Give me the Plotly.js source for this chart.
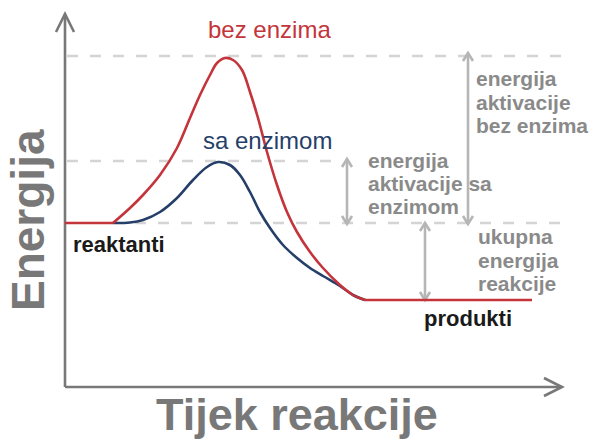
<!DOCTYPE html>
<html>
<head>
<meta charset="utf-8">
<script src="https://cdn.plot.ly/plotly-3.0.1.min.js"></script>
<style>html,body{margin:0;padding:0;background:#fff;}#chart{width:593px;height:441px;}</style>
</head>
<body>
<div id="chart"></div>
<script>
// Reaction progress (x) and energy (y) of the two pathways
const redX  = [0, 48, 65, 78, 95, 112, 125, 135, 145, 152, 160, 168, 177, 185, 193, 202, 212, 222, 232, 245, 258, 275, 288, 300, 467];
const redY  = [164, 164, 179, 192, 212, 239, 269, 292, 312, 324, 329, 327, 317, 295, 269, 235, 202, 175, 155, 135, 119, 102, 92, 87, 87];
const blueX = [48, 65, 78, 95, 112, 128, 142, 153, 165, 175, 185, 195, 205, 218, 232, 245, 258, 275, 288, 300];
const blueY = [164, 164.5, 167, 175, 189, 207, 220, 225, 222, 212, 195, 175, 159, 142, 129, 119, 111, 101, 92, 87];

// Energy levels
const levelReactants = 164;
const levelProducts = 87;
const levelPeakEnzyme = 226;
const levelPeakNoEnzyme = 331;

// Texts
const axisTitleY = 'Energija';
const axisTitleX = 'Tijek reakcije';
const curveLabels = ['bez enzima', 'sa enzimom'];
const stateLabels = ['reaktanti', 'produkti'];
const noteNoEnzyme = ['energija', 'aktivacije', 'bez enzima'];
const noteEnzyme = ['energija', 'aktivacije sa', 'enzimom'];
const noteTotal = ['ukupna', 'energija', 'reakcije'];

const RED = '#c4343b', BLUE = '#263f69', AXIS = '#787878', NOTE = '#8a8a8a', ARROW = '#b6b6b6', DASH = '#d4d4d4';
const FONT = 'Liberation Sans, Arial, sans-serif';

const n = redX.length;
const traces = [
  {x: blueX, y: blueY, mode: 'lines', line: {color: BLUE, width: 2.6, shape: 'spline', smoothing: 1}, hoverinfo: 'skip'},
  {x: redX.slice(0, 2), y: redY.slice(0, 2), mode: 'lines', line: {color: RED, width: 2.6}, hoverinfo: 'skip'},
  {x: redX.slice(1, n - 1), y: redY.slice(1, n - 1), mode: 'lines', line: {color: RED, width: 2.6, shape: 'spline', smoothing: 1}, hoverinfo: 'skip'},
  {x: redX.slice(n - 2), y: redY.slice(n - 2), mode: 'lines', line: {color: RED, width: 2.6}, hoverinfo: 'skip'}
];

const shapes = [];
function seg(x0, y0, x1, y1, color, width, dash) {
  shapes.push({type: 'line', xref: 'x', yref: 'y', x0, y0, x1, y1, line: {color, width, dash: dash || 'solid'}, layer: 'below'});
}
function pathShape(d, color, width) {
  shapes.push({type: 'path', xref: 'x', yref: 'y', path: d, line: {color, width}, fillcolor: 'rgba(0,0,0,0)', layer: 'below'});
}
// dashed guide lines
seg(2, levelPeakNoEnzyme, 498, levelPeakNoEnzyme, DASH, 2.5, '11px,12px');
seg(2, levelPeakEnzyme, 270, levelPeakEnzyme, DASH, 2.5, '11px,12px');
seg(70, levelReactants, 498, levelReactants, DASH, 2.5, '11px,12px');

// axes with arrowheads
const yTop = 373, xEnd = 497;
seg(0, 0, 0, yTop, AXIS, 2.6);
seg(0, 0, xEnd, 0, AXIS, 2.6);
pathShape(`M -9 ${yTop - 18} L 0 ${yTop} L 9 ${yTop - 18}`, AXIS, 2.6);
pathShape(`M ${xEnd - 18} 9 L ${xEnd} 0 L ${xEnd - 18} -9`, AXIS, 2.6);

// double arrows
function dbl(x, yLow, yHigh) {
  seg(x, yLow, x, yHigh, ARROW, 2.6);
  pathShape(`M ${x - 5} ${yHigh - 8} L ${x} ${yHigh} L ${x + 5} ${yHigh - 8}`, ARROW, 2.6);
  pathShape(`M ${x - 5} ${yLow + 8} L ${x} ${yLow} L ${x + 5} ${yLow + 8}`, ARROW, 2.6);
}
dbl(282, levelReactants - 1, levelPeakEnzyme + 2);
dbl(403, levelReactants - 1, levelPeakNoEnzyme + 3);
dbl(360, levelProducts, levelReactants);

const ann = [];
function txt(text, x, y, size, color, bold, anchor, angle) {
  ann.push({text: bold ? '<b>' + text + '</b>' : text, x, y, xref: 'x', yref: 'y', showarrow: false,
    xanchor: anchor || 'left', yanchor: 'middle', textangle: angle || 0,
    font: {family: FONT, size, color}});
}
txt(axisTitleY, -37, 167, 46, AXIS, true, 'center', -90);
txt(axisTitleX, 232, -27, 45, AXIS, true, 'center');
txt(curveLabels[0], 141, 358, 24, RED, false);
txt(curveLabels[1], 136, 247, 24, BLUE, false);
txt(stateLabels[0], 6, 143, 22, '#1a1a1a', true);
txt(stateLabels[1], 357, 69, 22, '#1a1a1a', true);
[309, 285, 262].forEach((y, i) => txt(noteNoEnzyme[i], 409, y, 21, NOTE, true));
[227, 204, 181].forEach((y, i) => txt(noteEnzyme[i], 301, y, 21, NOTE, true));
[151, 127, 104].forEach((y, i) => txt(noteTotal[i], 411, y, 21, NOTE, true));

const layout = {
  width: 593, height: 441,
  margin: {l: 0, r: 0, t: 0, b: 0},
  paper_bgcolor: '#ffffff', plot_bgcolor: '#ffffff',
  showlegend: false,
  xaxis: {range: [-65, 528], visible: false, fixedrange: true},
  yaxis: {range: [-54, 387], visible: false, fixedrange: true},
  shapes, annotations: ann
};
Plotly.newPlot('chart', traces, layout, {staticPlot: true, displayModeBar: false});
</script>
</body>
</html>
